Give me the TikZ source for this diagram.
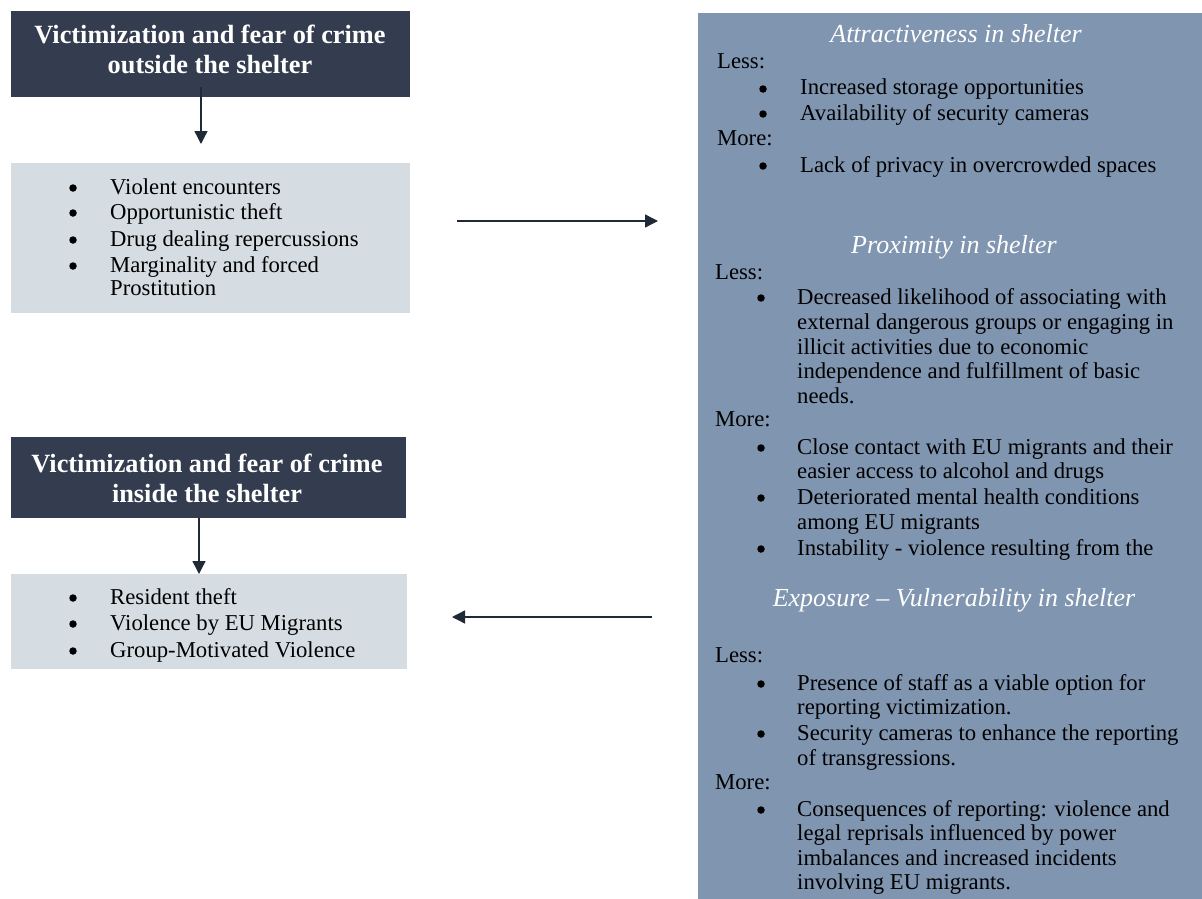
\documentclass[tikz,border=0pt]{standalone}
\usepackage{fontspec}
\setmainfont{Liberation Serif}
\usetikzlibrary{arrows.meta}
\definecolor{hdr}{HTML}{343D4F}
\definecolor{lbox}{HTML}{D5DDE2}
\definecolor{panel}{HTML}{8095B0}
\definecolor{arr}{HTML}{1F2A36}
\newcommand\bodyfont{\fontsize{22.7}{25.5}\selectfont}
\newcommand\hdfont{\fontsize{26.3}{30}\selectfont\bfseries}
\newcommand\itfont{\fontsize{26}{30}\selectfont\itshape}
\tikzset{
  body/.style={inner sep=0pt, anchor=base west, font=\bodyfont, text=black},
  bulletmark/.style={circle, inner sep=0pt, minimum size=7.5pt, fill=black},
  hdtext/.style={inner sep=0pt, anchor=base, font=\hdfont, text=white},
  ittext/.style={inner sep=0pt, anchor=base, font=\itfont, text=white},
  boxshape/.style={inner sep=0pt, anchor=north west, draw=none},
  conn/.style={draw=arr, line width=1.4pt, -{Triangle[width=13pt,length=13pt]}}
}
% name, x, y(center), text
\newcommand\bodyline[4]{\node[body] (#1) at (#2,#3+7) {#4};}
\newcommand\bulletat[3]{\node[bulletmark] (#1) at (#2,#3+1) {};}
\begin{document}
\begin{tikzpicture}[x=1pt,y=-1pt]
\useasboundingbox (0,0) rectangle (1202,899);
% boxes
\node[boxshape, fill=hdr, minimum width=399pt, minimum height=86pt] (h1) at (11,11) {};
\node[boxshape, fill=lbox, minimum width=399pt, minimum height=150pt] (b1) at (11,163) {};
\node[boxshape, fill=hdr, minimum width=395pt, minimum height=81pt] (h2) at (11,437) {};
\node[boxshape, fill=lbox, minimum width=396pt, minimum height=95pt] (b2) at (11,574) {};
\node[boxshape, fill=panel, minimum width=504pt, minimum height=886pt] (rp) at (698,13) {};
% headers
\node[hdtext] (h1a) at (210,35+9) {Victimization and fear of crime};
\node[hdtext] (h1b) at (210,65+9) {outside the shelter};
\node[hdtext] (h2a) at (207,463+9) {Victimization and fear of crime};
\node[hdtext] (h2b) at (207,493+9) {inside the shelter};
% box 1
\bulletat{b1u1}{73}{187}\bodyline{b1t1}{110}{187}{Violent encounters}
\bulletat{b1u2}{73}{212}\bodyline{b1t2}{110}{212}{Opportunistic theft}
\bulletat{b1u3}{73}{239}\bodyline{b1t3}{110}{239}{Drug dealing repercussions}
\bulletat{b1u4}{73}{265}\bodyline{b1t4}{110}{265}{Marginality and forced}
\bodyline{b1t5}{110}{288}{Prostitution}
% box 2
\bulletat{b2u1}{73}{597}\bodyline{b2t1}{110}{597}{Resident theft}
\bulletat{b2u2}{73}{623}\bodyline{b2t2}{110}{623}{Violence by EU Migrants}
\bulletat{b2u3}{73}{650}\bodyline{b2t3}{110}{650}{Group-Motivated Violence}
% right panel: attractiveness
\node[ittext] (s1) at (956,35+8) {Attractiveness in shelter};
\bodyline{a1}{717}{62}{Less:}
\bulletat{a2u}{763}{88}\bodyline{a2}{800}{88}{Increased storage opportunities}
\bulletat{a3u}{763}{113}\bodyline{a3}{800}{113}{Availability of security cameras}
\bodyline{a4}{717}{138}{More:}
\bulletat{a5u}{763}{165}\bodyline{a5}{800}{165}{Lack of privacy in overcrowded spaces}
% proximity
\node[ittext] (s2) at (954,245+8) {Proximity in shelter};
\bodyline{p1}{715}{272}{Less:}
\bulletat{p2u}{761}{297}\bodyline{p2}{797}{297}{Decreased likelihood of associating with}
\bodyline{p3}{797}{322}{external dangerous groups or engaging in}
\bodyline{p4}{797}{347}{illicit activities due to economic}
\bodyline{p5}{797}{371}{independence and fulfillment of basic}
\bodyline{p6}{797}{396}{needs.}
\bodyline{p7}{715}{419}{More:}
\bulletat{p8u}{761}{447}\bodyline{p8}{797}{447}{Close contact with EU migrants and their}
\bodyline{p9}{797}{471}{easier access to alcohol and drugs}
\bulletat{p10u}{761}{497}\bodyline{p10}{797}{497}{Deteriorated mental health conditions}
\bodyline{p11}{797}{522}{among EU migrants}
\bulletat{p12u}{761}{548}\bodyline{p12}{797}{548}{Instability - violence resulting from the}
% exposure
\node[ittext] (s3) at (954,598+8) {Exposure – Vulnerability in shelter};
\bodyline{e1}{715}{655}{Less:}
\bulletat{e2u}{761}{683}\bodyline{e2}{797}{683}{Presence of staff as a viable option for}
\bodyline{e3}{797}{707}{reporting victimization.}
\bulletat{e4u}{761}{733}\bodyline{e4}{797}{733}{Security cameras to enhance the reporting}
\bodyline{e5}{797}{758}{of transgressions.}
\bodyline{e6}{715}{782}{More:}
\bulletat{e7u}{761}{809}\bodyline{e7}{797}{809}{Consequences of reporting: violence and}
\bodyline{e8}{797}{833}{legal reprisals influenced by power}
\bodyline{e9}{797}{858}{imbalances and increased incidents}
\bodyline{e10}{797}{882}{involving EU migrants.}
% connectors
\coordinate (c1s) at (201,87);
\coordinate (c1e) at (201,144);
\coordinate (c2s) at (199,518);
\coordinate (c2e) at (199,574);
\coordinate (c3s) at (457,221);
\coordinate (c3e) at (658,221);
\coordinate (c4s) at (652,617);
\coordinate (c4e) at (452,617);
\draw[conn] (c1s) -- (c1e);
\draw[conn] (c2s) -- (c2e);
\draw[conn] (c3s) -- (c3e);
\draw[conn] (c4s) -- (c4e);
\end{tikzpicture}
\end{document}
